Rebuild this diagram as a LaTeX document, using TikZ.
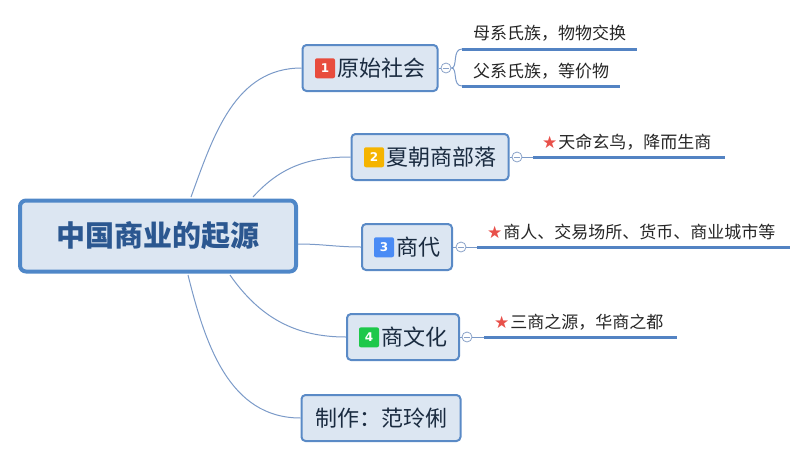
\documentclass[tikz,border=0pt]{standalone}
\usepackage{fontspec}
\setmainfont{Noto Sans CJK SC}
\newfontfamily\symfont{DejaVu Sans}
\usetikzlibrary{positioning}
\definecolor{boxfill}{HTML}{DCE6F2}
\definecolor{rootline}{HTML}{4F87C8}
\definecolor{rootink}{HTML}{2B5790}
\definecolor{boxline}{HTML}{5A8AC6}
\definecolor{boxink}{HTML}{1A2B40}
\definecolor{wire}{HTML}{7B9AC8}
\definecolor{leafbar}{HTML}{5383C3}
\definecolor{knob}{HTML}{8AA2C8}
\definecolor{starred}{HTML}{E8504A}
\definecolor{tagred}{HTML}{E84C3D}
\definecolor{tagorange}{HTML}{F5B400}
\definecolor{tagblue}{HTML}{4A8BF5}
\definecolor{taggreen}{HTML}{1DC84A}
\newcommand\numbadge[2]{\tikz[baseline=-8pt]\node[badgebox,fill=#1]{#2};}
\newcommand\leafstar{{\symfont\fontsize{17pt}{17pt}\selectfont\color{starred}★}\hspace{1pt}}
\begin{document}
\begin{tikzpicture}[
  x=1pt, y=-1pt,
  rootbox/.style={draw=rootline, line width=4pt, fill=boxfill, rounded corners=6pt,
    minimum width=276pt, minimum height=71pt, text=rootink,
    font=\fontsize{29pt}{29pt}\selectfont\bfseries},
  branchbox/.style={draw=boxline, line width=2pt, fill=boxfill, rounded corners=4pt,
    minimum height=46pt, text=boxink, font=\fontsize{22pt}{22pt}\selectfont},
  badgebox/.style={draw=none, rounded corners=2pt, minimum width=20pt, minimum height=20pt,
    inner sep=0pt, text=white, font=\symfont\bfseries\fontsize{12pt}{12pt}\selectfont},
  leaftext/.style={anchor=base west, inner sep=0pt, text=black!85,
    font=\fontsize{17pt}{17pt}\selectfont},
  knobnode/.style={circle, draw=knob, fill=white, line width=0.8pt, minimum size=10pt, inner sep=0pt},
  wireline/.style={draw=wire, line width=1pt},
  barline/.style={draw=leafbar, line width=3pt}
]
\useasboundingbox (0,0) rectangle (807,459);

% root and main branches
\node[rootbox] (root) at (158,236) {中国商业的起源};
\node[branchbox, minimum width=135pt] (b1) at (370,68) {\numbadge{tagred}{1}\hspace{2pt}原始社会};
\node[branchbox, minimum width=157pt] (b2) at (430,157) {\numbadge{tagorange}{2}\hspace{2pt}夏朝商部落};
\node[branchbox, minimum width=90pt] (b3) at (407,247) {\numbadge{tagblue}{3}\hspace{2pt}商代};
\node[branchbox, minimum width=112pt] (b4) at (403,337) {\numbadge{taggreen}{4}\hspace{2pt}商文化};
\node[branchbox, minimum width=159pt] (b5) at (381,418) {制作：范玲俐};

\draw[wireline] (191,197) to[out=70, in=180] (b1.west);
\draw[wireline] (253,197) to[out=48, in=180] (b2.west);
\draw[wireline] ([yshift=-8pt]root.east) to[out=0, in=180] (b3.west);
\draw[wireline] (230,275) to[out=-55, in=180] (b4.west);
\draw[wireline] (188,275) to[out=-76, in=180] (b5.west);

% collapse knobs
\node[knobnode] (c1) at (446,68) {};
\node[knobnode] (c2) at (517,157) {};
\node[knobnode] (c3) at (461,247) {};
\node[knobnode] (c4) at (467,337) {};
\foreach \i in {1,...,4}{
  \draw[wireline] (b\i.east) -- (c\i.west);
  \draw[draw=knob, line width=0.8pt] ([xshift=-3pt]c\i.center) -- ([xshift=3pt]c\i.center);
}

% leaves
\coordinate (l1s) at (462,49);  \coordinate (l1e) at (637,49);
\coordinate (l1t) at (462,86);  \coordinate (l1u) at (620,86);
\coordinate (l2s) at (533,157); \coordinate (l2e) at (725,157);
\coordinate (l3s) at (477,247); \coordinate (l3e) at (790,247);
\coordinate (l4s) at (484,337); \coordinate (l4e) at (677,337);

\draw[wireline] (c1.east) .. controls (458,68) and (452,49) .. (l1s);
\draw[wireline] (c1.east) .. controls (458,68) and (452,86) .. (l1t);
\foreach \i in {2,3,4}{ \draw[wireline] (c\i.east) -- (l\i s); }
\draw[barline] (l1s) -- (l1e);
\draw[barline] (l1t) -- (l1u);
\foreach \i in {2,3,4}{ \draw[barline] (l\i s) -- (l\i e); }

\node[leaftext] (t1) at (473,39) {母系氏族，物物交换};
\node[leaftext] (t5) at (473,77) {父系氏族，等价物};
\node[leaftext] (t2) at (542,148) {\leafstar 天命玄鸟，降而生商};
\node[leaftext] (t3) at (487,238) {\leafstar 商人、交易场所、货币、商业城市等};
\node[leaftext] (t4) at (494,328) {\leafstar 三商之源，华商之都};
\end{tikzpicture}
\end{document}
